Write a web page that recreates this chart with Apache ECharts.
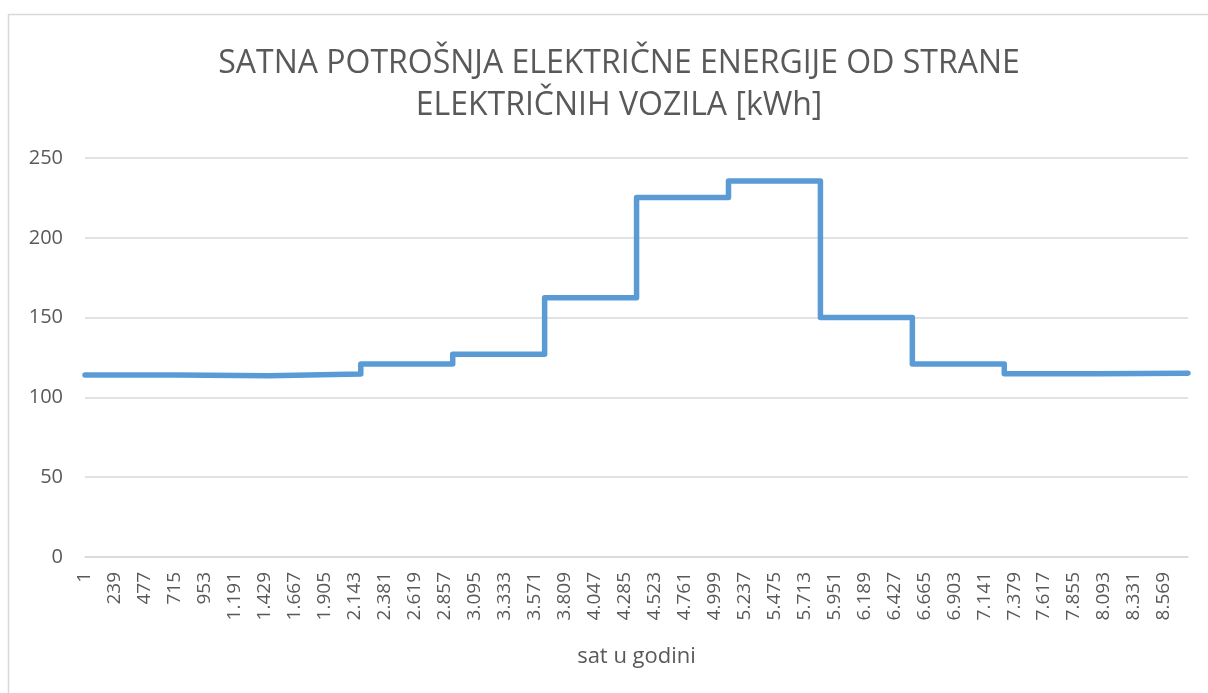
<!DOCTYPE html>
<html>
<head>
<meta charset="utf-8">
<script src="https://cdn.jsdelivr.net/npm/echarts@6/dist/echarts.min.js"></script>
<style>
html,body{margin:0;padding:0;background:#fff;}
#c{width:1208px;height:693px;}
</style>
</head>
<body>
<div id="c"></div>
<script>
// Data (12 equal "months" of 730 hours)
var totalHours = 8760;
var stepStartHours = [1, 731, 1461, 2191, 2921, 3651, 4381, 5111, 5841, 6571, 7301, 8031];
var stepValues = [114, 113.6, 114.6, 121, 127, 162.5, 225.2, 235.6, 150, 121, 114.8, 115.2];
var titleLines = ['SATNA POTROŠNJA ELEKTRIČNE ENERGIJE OD STRANE', 'ELEKTRIČNIH VOZILA [kWh]'];
var xAxisTitle = 'sat u godini';
var labelEvery = 238;

var hours = [];
for (var h = 1; h <= totalHours; h++) hours.push(String(h));

var seriesData = stepStartHours.map(function (s, i) { return [s - 1, stepValues[i]]; });
seriesData.push([totalHours - 1, stepValues[stepValues.length - 1]]);

function fmt(v) {
  return String(v).replace(/\B(?=(\d{3})+(?!\d))/g, '.');
}

var FONT = 'Open Sans';
var chart = echarts.init(document.getElementById('c'), null, {renderer: 'canvas'});
chart.setOption({
  animation: false,
  backgroundColor: '#ffffff',
  title: {
    text: titleLines.join('\n'),
    left: 614,
    top: 38,
    textAlign: 'center',
    textStyle: {fontFamily: FONT, fontSize: 32, fontWeight: 'normal', color: '#595959', lineHeight: 42}
  },
  graphic: [{
    type: 'rect',
    shape: {x: 8.5, y: 14.5, width: 1260, height: 720},
    style: {fill: 'none', stroke: '#d9d9d9', lineWidth: 1.5},
    silent: true
  }],
  grid: {left: 85, right: 20, top: 158, bottom: 136, containLabel: false},
  xAxis: {
    type: 'category',
    data: hours,
    boundaryGap: false,
    axisLine: {lineStyle: {color: '#d9d9d9', width: 1.5}},
    axisTick: {show: false},
    axisLabel: {
      interval: labelEvery - 1,
      rotate: 90,
      margin: 15,
      fontFamily: FONT,
      fontSize: 19,
      color: '#595959',
      formatter: function (v) { return fmt(v); }
    },
    name: xAxisTitle,
    nameLocation: 'middle',
    nameGap: 89,
    nameTextStyle: {fontFamily: FONT, fontSize: 22, color: '#595959'}
  },
  yAxis: {
    type: 'value',
    min: 0,
    max: 250,
    interval: 50,
    axisLine: {show: false},
    axisTick: {show: false},
    splitLine: {lineStyle: {color: '#d9d9d9', width: 1.5}},
    axisLabel: {fontFamily: FONT, fontSize: 20, color: '#595959', margin: 22}
  },
  series: [{
    type: 'line',
    step: 'end',
    data: seriesData,
    showSymbol: false,
    symbol: 'none',
    lineStyle: {color: '#5b9bd5', width: 5.5, join: 'round', cap: 'round'},
    silent: true
  }]
});
</script>
</body>
</html>
